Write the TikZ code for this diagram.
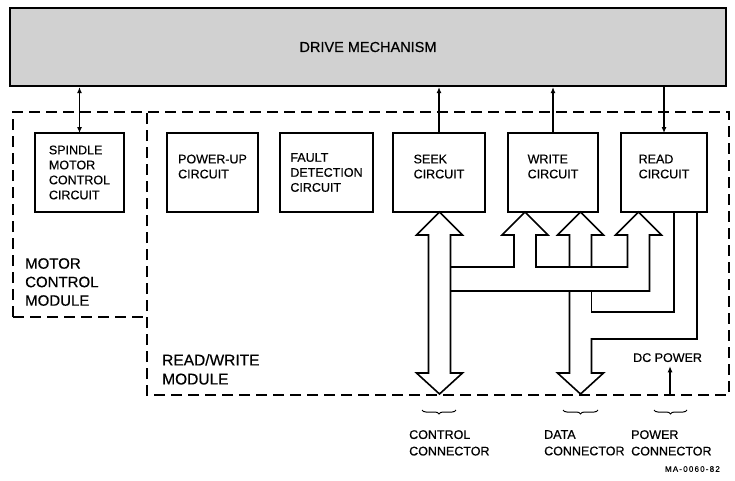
\documentclass[tikz,border=0pt]{standalone}
\usepackage{fontspec}
\setmainfont{Liberation Sans}[FakeBold=0.5]
\usetikzlibrary{positioning,arrows.meta,decorations.pathreplacing}

\begin{document}
\begin{tikzpicture}[x=1pt,y=-1pt,
  font=\fontsize{12.5}{15}\selectfont, node distance=22pt,
  >={Latex[length=6pt,width=5pt]},
  box/.style={draw,line width=1.8pt,align=left,minimum height=79pt,inner sep=0pt,outer sep=0pt},
  twoline/.style={text depth=12pt},
  drive/.style={draw,line width=2.2pt,fill=black!18,minimum width=716pt,minimum height=78pt},
  module/.style={dash pattern=on 11pt off 6pt,line width=1.8pt},
  bus/.style={line width=1.6pt,line join=miter},
  arr/.style={->,line width=1.1pt},
  lbl/.style={align=left,inner sep=0pt,anchor=north west},
  conn/.style={lbl,font=\fontsize{12.5}{16.5}\selectfont},
  brc/.style={decorate,decoration={brace,amplitude=4pt},line width=1pt}]

  \useasboundingbox (0,0) rectangle (735,480);

  \node[drive] (drive) at (368,47) {\fontsize{14.5}{17}\selectfont DRIVE MECHANISM};
  \node[box,minimum width=89pt] (spindle) at (79.5,172.5) {SPINDLE\\MOTOR\\CONTROL\\CIRCUIT};
  \node[box,twoline,minimum width=91pt,right=43pt of spindle] (powerup) {POWER-UP\\CIRCUIT};
  \node[box,minimum width=93pt,right=of powerup] (fault) {FAULT\\DETECTION\\CIRCUIT};
  \node[box,twoline,minimum width=92pt,right=20pt of fault] (seek) {SEEK\\CIRCUIT};
  \node[box,twoline,minimum width=90pt,right=23pt of seek] (write) {WRITE\\CIRCUIT};
  \node[box,twoline,minimum width=86pt,right=23pt of write] (read) {READ\\CIRCUIT};

  \draw[module] (13,317) -- (13,112) -- (729,112) -- (729,395) -- (147,395) -- (147,112);
  \draw[module] (13,317) -- (147,317);
  \node[lbl,font=\fontsize{15}{18.5}\selectfont] (motormod) at (25,258) {MOTOR\\CONTROL\\MODULE};
  \node[lbl,font=\fontsize{15.5}{19}\selectfont] (rwmod) at (162,354) {READ/WRITE\\MODULE};

  \draw[arr,<->] (spindle.north) -- (spindle.north |- drive.south);
  \draw[arr] (seek.north) -- (seek.north |- drive.south);
  \draw[arr] (write.north) -- (write.north |- drive.south);
  \draw[arr] (read.north |- drive.south) -- (read.north);

  \draw[bus] (450.5,291) -- (450.5,267) -- (450.5,235) -- (462.5,235) -- (439.5,212) -- (416.5,235)
    -- (428.5,235) -- (428.5,373) -- (416.5,373) -- (439.5,394) -- (462.5,373) -- (450.5,373) -- cycle;
  \draw[bus] (450.5,267) -- (514,267) -- (514,235) -- (502,235) -- (525,212) -- (548,235) -- (536,235)
    -- (536,267) -- (627.5,267) -- (627.5,235) -- (615.5,235) -- (638.5,212) -- (661.5,235) -- (649.5,235)
    -- (649.5,291) -- (450.5,291);
  \draw[bus] (569.5,267) -- (569.5,235) -- (557.5,235) -- (580.5,212) -- (603.5,235) -- (591.5,235) -- (591.5,267);
  \draw[bus] (569.5,291) -- (569.5,373) -- (557.5,373) -- (580.5,394) -- (603.5,373) -- (591.5,373)
    -- (591.5,339) -- (697,339) -- (697,212);
  \draw[bus] (591.5,291) -- (591.5,312) -- (674,312) -- (674,212);

  \node[lbl] (dcpower) at (633,353) {DC POWER};
  \coordinate (pwrin) at (670,395);
  \draw[arr,shorten >=4pt] (pwrin) -- (pwrin |- dcpower.south);

  \draw[brc] (456,410) -- (422,410);
  \draw[brc] (598,410) -- (563,410);
  \draw[brc] (687,410) -- (654,410);
  \node[conn] (ctrlconn) at (409,430) {CONTROL\\CONNECTOR};
  \node[conn] (dataconn) at (544,430) {DATA\\CONNECTOR};
  \node[conn] (pwrconn) at (631,430) {POWER\\CONNECTOR};
  \node[lbl,anchor=north east,font=\fontsize{8}{9}\selectfont\addfontfeatures{LetterSpace=15}] (fignum) at (720,466) {MA-0060-82};
\end{tikzpicture}
\end{document}
